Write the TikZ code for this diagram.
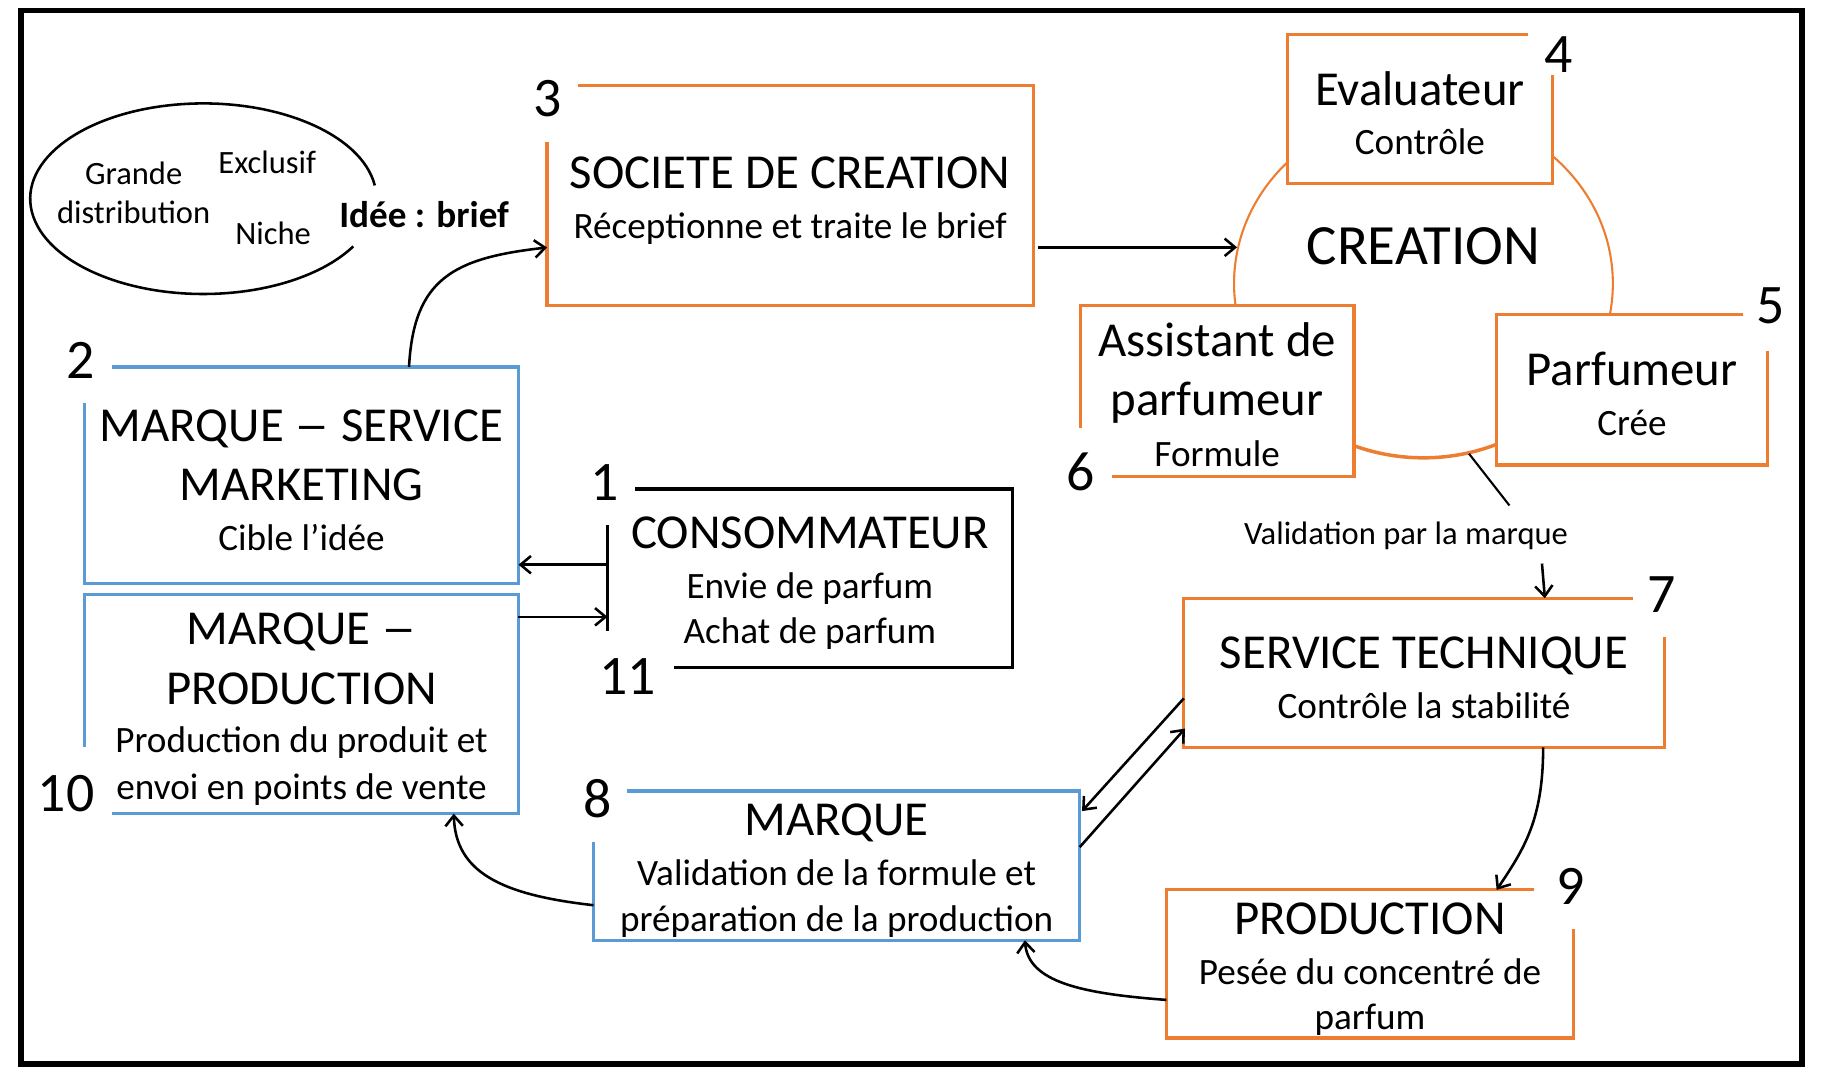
\documentclass[tikz,border=0pt]{standalone}
\usepackage{fontspec}
\usepackage{graphicx}
\setmainfont{Carlito}
\usetikzlibrary{arrows.meta,shapes.geometric,calc}
\definecolor{orng}{RGB}{237,125,49}
\definecolor{blu}{RGB}{91,155,213}
\newcommand\ttl{\fontsize{42}{51}\selectfont}
\newcommand\sbt{\fontsize{32}{39}\selectfont}
\newcommand\sml{\fontsize{28}{34}\selectfont}
\newcommand\bignum{\fontsize{48}{58}\selectfont}
\newcommand\tup{\rule{0pt}{36pt}}
\newcommand\ldash{\scalebox{1.45}[1]{–}}
\begin{document}
\begin{tikzpicture}[x=1pt,y=1pt,
  boxn/.style={inner sep=0pt, fill=white, align=center, font=\ttl},
  bl/.style={draw=blu, line width=2.8pt},
  og/.style={draw=orng, line width=2.8pt},
  bk/.style={draw=black, line width=2.8pt},
  arr/.style={line width=2.2pt, -{Straight Barb[length=9pt,width=15pt]}},
  con/.style={line width=2.2pt},
  num/.style={inner sep=0pt, font=\bignum},
  sm/.style={inner sep=0pt, font=\sml}]
\useasboundingbox (0,0) rectangle (1568,-919);
% frame
\draw[line width=5pt] (18,-9) rectangle (1551,-916);

% idea ellipse (open on the right)
\draw[con] (175,-171) ++(8:149 and 82) arc[start angle=8, end angle=330, x radius=149, y radius=82];
\node[sm] (tg) at (115,-149) {Grande};
\node[sm] (td) at (115,-183) {distribution};
\node[sm] (te) at (230,-140) {Exclusif};
\node[sm] (tn) at (235,-201) {Niche};
\node[inner sep=0pt, font=\sbt\bfseries] (idee) at (365,-185) {Idée : brief};

% creation circle
\node[ellipse, draw=orng, line width=1.8pt, minimum width=326pt, minimum height=300pt, inner sep=0pt] (cre) at (1225,-244) {};
\draw[orng, line width=3pt] (1225,-244) ++(240:163 and 150) arc[start angle=240, end angle=300, x radius=163, y radius=150];
\node[inner sep=0pt, font=\fontsize{49}{58}\selectfont] (creat) at (1225,-212) {CREATION};

% boxes
\node[boxn, minimum width=373pt, minimum height=186pt] (b2) at (259.5,-409)
  {\tup MARQUE \ldash{} SERVICE\\MARKETING\\[-8pt]\sbt Cible l’idée};
\draw[bl] ([xshift=24pt]b2.north west) -- (b2.north east) -- (b2.south east) -- (b2.south west) -- ([yshift=-31pt]b2.north west);

\node[boxn, minimum width=373pt, minimum height=188pt] (b10) at (259.5,-606)
  {\tup MARQUE \ldash\\PRODUCTION\\[-9pt]\sbt Production du produit et\\[-11pt]\sbt envoi en points de vente};
\draw[bl] ([xshift=24pt]b10.south west) -- (b10.south east) -- (b10.north east) -- (b10.north west) -- ([yshift=57pt]b10.south west);

\node[boxn, minimum width=418pt, minimum height=189pt] (b3) at (680,-168.5)
  {\tup SOCIETE DE CREATION\\[-8pt]\sbt Réceptionne et traite le brief};
\draw[og] ([xshift=27pt]b3.north west) -- (b3.north east) -- (b3.south east) -- (b3.south west) -- ([yshift=-48pt]b3.north west);

\node[boxn, minimum width=228pt, minimum height=128pt] (b4) at (1222,-94)
  {\tup Evaluateur\\[-9pt]\sbt Contrôle};
\draw[og] ([xshift=-21pt]b4.north east) -- (b4.north west) -- (b4.south west) -- (b4.south east) -- ([yshift=-35pt]b4.north east);

\node[boxn, minimum width=233pt, minimum height=129pt] (b5) at (1404.5,-335.5)
  {\tup Parfumeur\\[-8pt]\sbt Crée};
\draw[og] ([xshift=-21pt]b5.north east) -- (b5.north west) -- (b5.south west) -- (b5.south east) -- ([yshift=-31pt]b5.north east);

\node[boxn, minimum width=235pt, minimum height=147pt] (b6) at (1047.5,-336.5)
  {\tup Assistant de\\parfumeur\\[-7pt]\sbt Formule};
\draw[og] ([xshift=27pt]b6.south west) -- (b6.south east) -- (b6.north east) -- (b6.north west) -- ([yshift=42pt]b6.south west);

\node[boxn, minimum width=413pt, minimum height=128pt] (b7) at (1225.5,-579)
  {\tup SERVICE TECHNIQUE\\[-8pt]\sbt Contrôle la stabilité};
\draw[og] ([xshift=-27pt]b7.north east) -- (b7.north west) -- (b7.south west) -- (b7.south east) -- ([yshift=-33pt]b7.north east);

\node[boxn, minimum width=350pt, minimum height=127pt] (b9) at (1179,-829.5)
  {\tup PRODUCTION\\[-8pt]\sbt Pesée du concentré de\\[-12pt]\sbt parfum};
\draw[og] ([xshift=-34pt]b9.north east) -- (b9.north west) -- (b9.south west) -- (b9.south east) -- ([yshift=-34pt]b9.north east);

\node[boxn, minimum width=418pt, minimum height=128pt] (b8) at (720,-745)
  {\tup MARQUE\\[-8pt]\sbt Validation de la formule et\\[-12pt]\sbt préparation de la production};
\draw[bl] ([xshift=29pt]b8.north west) -- (b8.north east) -- (b8.south east) -- (b8.south west) -- ([yshift=-44pt]b8.north west);

\node[boxn, minimum width=348pt, minimum height=153pt] (b1) at (697,-497.5)
  {\tup CONSOMMATEUR\\[-8pt]\sbt Envie de parfum\\[-12pt]\sbt Achat de parfum};
\draw[bk] ([xshift=24pt]b1.north west) -- (b1.north east) -- (b1.south east) -- ([xshift=57pt]b1.south west);
\draw[bk] ([yshift=-31pt]b1.north west) -- ([yshift=31pt]b1.south west);

% numbers
\node[num] (n1) at (520,-415) {1};
\node[num] (n11) at (540,-582) {11};
\node[num] (n2) at (69,-310) {2};
\node[num] (n10) at (57,-683) {10};
\node[num] (n3) at (471,-85) {3};
\node[num] (n4) at (1341,-47) {4};
\node[num] (n5) at (1524,-263) {5};
\node[num] (n6) at (930,-406) {6};
\node[num] (n7) at (1430,-512) {7};
\node[num] (n8) at (514,-687) {8};
\node[num] (n9) at (1352,-763) {9};

% connectors
\draw[arr] ([xshift=92.5pt]b2.north) .. controls (356,-240) and (390,-222) .. ([yshift=-44.5pt]b3.west);
\coordinate (s3) at ($(b3.east |- cre.169)+(4,0)$);
\draw[arr] (s3) -- (cre.169);

\coordinate (c1a) at ([yshift=11.5pt]b1.west);
\draw[arr] (c1a) -- (c1a -| b2.east);
\coordinate (c10a) at ([yshift=-19pt]b10.north east);
\draw[arr] (c10a) -- (c10a -| b1.west);

\draw[arr] ([yshift=-22pt]b7.west) -- ([xshift=2pt,yshift=47pt]b8.east);
\draw[arr] ([yshift=16pt]b8.east) -- ([xshift=1pt,yshift=-48pt]b7.west);

\draw[arr] ([xshift=102.5pt]b7.south) .. controls (1328,-705) and (1312,-730) .. ([xshift=109pt]b9.north);
\draw[arr] ([yshift=-31pt]b9.west) .. controls (930,-855) and (885,-845) .. ([xshift=162pt]b8.south);
\draw[arr] ([yshift=-34pt]b8.west) .. controls (430,-770) and (392,-750) .. ([xshift=131pt]b10.south);

% validation
\coordinate (v1) at (1299,-435);
\draw[line width=1.8pt] (cre.-75) -- (v1);
\node[sm] (val) at (1210,-461) {Validation par la marque};
\coordinate (v2) at (1327,-485);
\draw[arr] (v2) -- ([xshift=104pt]b7.north);
\end{tikzpicture}
\end{document}
